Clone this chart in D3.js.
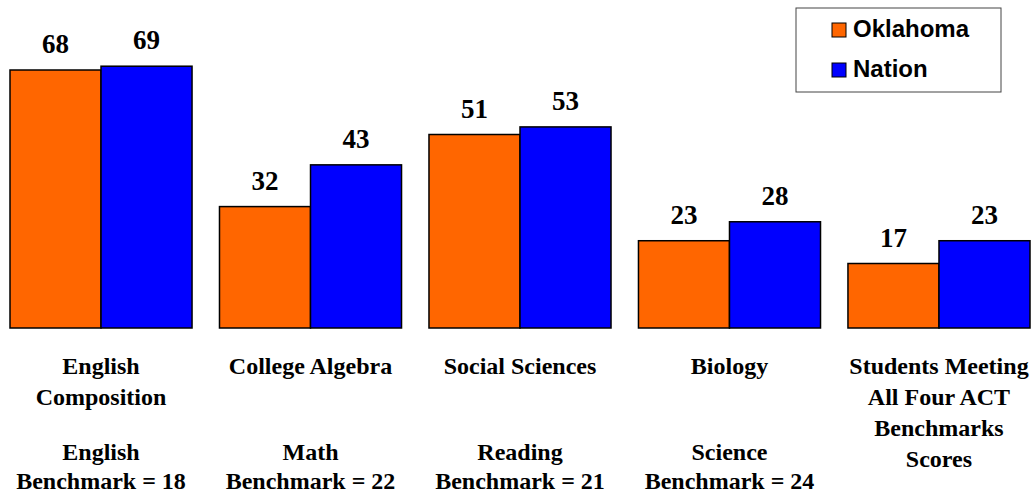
<!DOCTYPE html>
<html>
<head>
<meta charset="utf-8">
<script src="https://cdn.jsdelivr.net/npm/d3@7"></script>
<style>
  body { margin: 0; background: #fff; }
  svg { display: block; }
</style>
</head>
<body>
<svg id="chart" width="1034" height="495"></svg>
<script>
// chart data
const categories = ["English Composition", "College Algebra", "Social Sciences", "Biology", "Students Meeting All Four ACT Benchmarks Scores"];
const oklahoma = [68, 32, 51, 23, 17];
const nation = [69, 43, 53, 28, 23];
const seriesNames = ["Oklahoma", "Nation"];
const seriesColors = ["#FF6600", "#0000FF"];
// category label lines (course name, then the ACT benchmark)
const labelTop = [["English", "Composition"], ["College Algebra"], ["Social Sciences"], ["Biology"], ["Students Meeting", "All Four ACT", "Benchmarks", "Scores"]];
const labelBottom = [["English", "Benchmark = 18"], ["Math", "Benchmark = 22"], ["Reading", "Benchmark = 21"], ["Science", "Benchmark = 24"], []];

const svg = d3.select("#chart");
const baseY = 328;

const x = d3.scaleBand().domain(categories).range([10, 1030]).paddingInner(0.131).paddingOuter(0);
const xs = d3.scaleBand().domain(seriesNames).range([0, x.bandwidth()]);
const y = d3.scaleLinear().domain([0, 68]).range([baseY, 70]);

const rows = categories.map((c, i) => ({ cat: c, i, vals: [oklahoma[i], nation[i]] }));

const groups = svg.selectAll(".group")
  .data(rows)
  .join("g")
    .attr("class", "group")
    .attr("transform", d => `translate(${x(d.cat)},0)`);

groups.selectAll("rect")
  .data(d => d.vals.map((v, k) => ({ v, k })))
  .join("rect")
    .attr("x", d => xs(seriesNames[d.k]))
    .attr("y", d => y(d.v))
    .attr("width", xs.bandwidth())
    .attr("height", d => baseY - y(d.v))
    .attr("fill", d => seriesColors[d.k])
    .attr("stroke", "#000")
    .attr("stroke-width", 1.5);

groups.selectAll(".val")
  .data(d => d.vals.map((v, k) => ({ v, k })))
  .join("text")
    .attr("class", "val")
    .attr("x", d => xs(seriesNames[d.k]) + xs.bandwidth() / 2)
    .attr("y", d => y(d.v) - 17)
    .attr("text-anchor", "middle")
    .attr("font-family", "Liberation Serif, Times New Roman, serif")
    .attr("font-weight", "bold")
    .attr("font-size", "27px")
    .text(d => d.v);

// category labels
const labelFont = g => g
  .attr("text-anchor", "middle")
  .attr("font-family", "Liberation Serif, Times New Roman, serif")
  .attr("font-weight", "bold")
  .attr("font-size", "24px")
  .attr("fill", "#000");

groups.selectAll(".lblTop")
  .data(d => labelTop[d.i])
  .join("text")
    .attr("class", "lblTop")
    .attr("x", x.bandwidth() / 2)
    .attr("y", (d, j) => 374 + j * 31)
    .call(labelFont)
    .text(d => d);

groups.selectAll(".lblBot")
  .data(d => labelBottom[d.i])
  .join("text")
    .attr("class", "lblBot")
    .attr("x", x.bandwidth() / 2)
    .attr("y", (d, j) => 460 + j * 29)
    .call(labelFont)
    .text(d => d);

// legend
const legend = svg.append("g").attr("transform", "translate(796,8)");
legend.append("rect")
  .attr("x", 0).attr("y", 0).attr("width", 205).attr("height", 84)
  .attr("fill", "#fff").attr("stroke", "#444").attr("stroke-width", 1);
const items = legend.selectAll(".item")
  .data(seriesNames)
  .join("g")
    .attr("class", "item")
    .attr("transform", (d, i) => `translate(36,${15 + i * 40})`);
items.append("rect")
  .attr("width", 14).attr("height", 14)
  .attr("fill", (d, i) => seriesColors[i])
  .attr("stroke", "#000").attr("stroke-width", 1);
items.append("text")
  .attr("x", 21).attr("y", 14)
  .attr("font-family", "Liberation Sans, Arial, sans-serif")
  .attr("font-weight", "bold")
  .attr("font-size", "24px")
  .text(d => d);
</script>
</body>
</html>
